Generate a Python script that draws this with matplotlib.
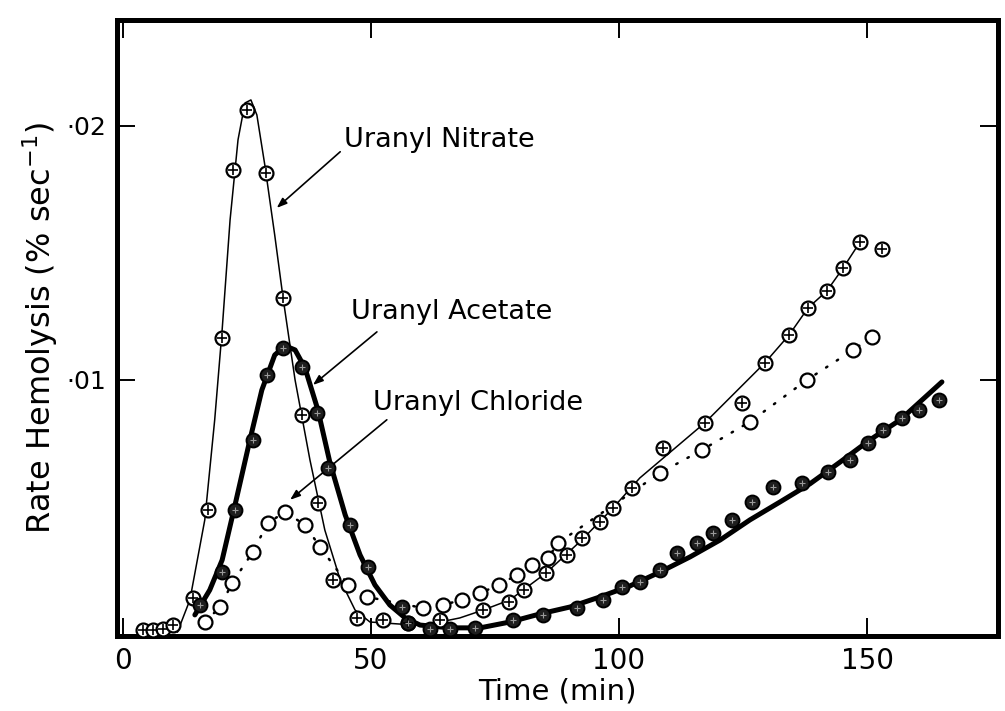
import matplotlib
matplotlib.use("Agg")
import matplotlib.pyplot as plt

# ── Data (time in min, rate in % sec^-1) ──────────────────────────────────────

# Uranyl Nitrate: measured points (crossed circles)
nitrate_t = [4.1, 6.1, 8.1, 10.1, 14.1, 17.1, 19.9, 22.2, 25.0, 28.8, 32.3, 36.1,
             39.3, 42.3, 47.2, 52.4, 57.5, 63.9, 72.6, 77.8, 80.8, 85.3, 89.5,
             92.5, 96.2, 98.8, 102.6, 108.9, 117.3, 124.8, 129.4, 134.3, 138.1,
             141.9, 145.2, 148.6, 153.0]
nitrate_r = [0.00015, 0.00015, 0.0002, 0.00035, 0.00142, 0.00488, 0.01165, 0.01827,
             0.02063, 0.01815, 0.01323, 0.00862, 0.00516, 0.00213, 0.00063, 0.00055,
             0.00043, 0.00055, 0.00094, 0.00126, 0.00173, 0.0024, 0.00311, 0.00378,
             0.00441, 0.00496, 0.00575, 0.00732, 0.00831, 0.00909, 0.01067, 0.01177,
             0.01283, 0.0135, 0.01441, 0.01543, 0.01516]

# Uranyl Nitrate: hand-drawn curve
nitrate_fit_t = [11.0, 13.5, 16.5, 18.5, 20.0, 21.6, 23.2, 24.6, 25.8, 27.0, 28.6,
                 30.6, 32.3, 34.7, 37.7, 40.7, 43.8, 46.8, 49.8, 55.8, 61.9, 67.9,
                 72.6, 78.0, 85.3, 92.5, 98.8, 104.2, 117.3, 129.4, 134.3, 138.1,
                 141.9, 145.2, 148.6]
nitrate_fit_r = [0.00008, 0.00134, 0.00449, 0.00843, 0.01197, 0.0163, 0.01945,
                 0.0209, 0.02102, 0.02043, 0.01846, 0.0157, 0.0132, 0.01, 0.00685,
                 0.00409, 0.00213, 0.00094, 0.00047, 0.00039, 0.00039, 0.00063,
                 0.00094, 0.00134, 0.0024, 0.0037, 0.00496, 0.00614, 0.00831,
                 0.01067, 0.01177, 0.01283, 0.0135, 0.01441, 0.01543]

# Uranyl Acetate: measured points (filled circles)
acetate_t = [15.5, 20.0, 22.6, 26.2, 29.0, 32.3, 36.1, 39.1, 41.3, 45.8, 49.4,
             56.3, 57.5, 62.0, 66.0, 71.0, 78.6, 84.7, 91.5, 96.8, 100.6, 104.2,
             108.3, 111.7, 115.7, 119.0, 122.8, 126.8, 131.0, 136.9, 142.1, 146.6,
             150.2, 153.2, 157.1, 160.5, 164.5]
acetate_r = [0.00114, 0.00244, 0.00488, 0.00764, 0.0102, 0.01126, 0.01051, 0.0087,
             0.00654, 0.00429, 0.00264, 0.00106, 0.00043, 0.0002, 0.00018, 0.00024,
             0.00055, 0.00075, 0.00102, 0.00134, 0.00185, 0.00205, 0.00252, 0.00319,
             0.00358, 0.00398, 0.00449, 0.0052, 0.00579, 0.00594, 0.00638, 0.00685,
             0.00752, 0.00803, 0.0085, 0.00882, 0.00921]

# Uranyl Acetate: hand-drawn curve
acetate_fit_t = [14.5, 17.5, 20.0, 22.6, 25.6, 28.0, 30.6, 32.7, 34.7, 36.7, 39.3,
                 41.7, 44.8, 47.8, 50.8, 53.8, 56.9, 59.9, 65.9, 72.0, 78.0, 84.1,
                 90.1, 96.2, 102.2, 108.3, 114.3, 120.4, 126.4, 132.5, 138.5, 144.6,
                 150.6, 156.7, 165.1]
acetate_fit_r = [0.00075, 0.00173, 0.00291, 0.00508, 0.00764, 0.0096, 0.01098,
                 0.01134, 0.01118, 0.01047, 0.00882, 0.00677, 0.00469, 0.00311,
                 0.00193, 0.00114, 0.00063, 0.00035, 0.00024, 0.00024, 0.00047,
                 0.00079, 0.00106, 0.00146, 0.00189, 0.00244, 0.00303, 0.0037,
                 0.00449, 0.0052, 0.00591, 0.00677, 0.00764, 0.00843, 0.00992]

# Uranyl Chloride: measured points (open circles, dotted)
chloride_t = [16.5, 19.6, 22.0, 26.2, 29.2, 32.7, 36.7, 39.7, 45.4, 49.2, 60.5,
              64.5, 68.3, 72.0, 75.8, 79.4, 82.5, 85.7, 87.7, 108.3, 116.7, 126.4,
              137.9, 147.2, 151.0]
chloride_r = [0.00047, 0.00106, 0.002, 0.00323, 0.00437, 0.0048, 0.00429, 0.00343,
              0.00193, 0.00146, 0.00102, 0.00114, 0.00134, 0.00161, 0.00193, 0.00232,
              0.00272, 0.00299, 0.00358, 0.00634, 0.00724, 0.00835, 0.01, 0.01118,
              0.01169]

x_ticks = [0, 50, 100, 150]
y_ticks = [0.01, 0.02]
y_tick_labels = ["·01", "·02"]

# ── Figure ────────────────────────────────────────────────────────────────────

fig = plt.figure(figsize=(10.05, 7.11), dpi=100)
ax = fig.add_axes([0.1164, 0.1055, 0.8766, 0.8665])

# curves
ax.plot(nitrate_fit_t, nitrate_fit_r, color="black", linewidth=1.1, zorder=2)
ax.plot(acetate_fit_t, acetate_fit_r, color="black", linewidth=3.6,
        solid_capstyle="round", zorder=2)
ax.plot(chloride_t, chloride_r, color="black", linewidth=1.8,
        linestyle=(0, (0.6, 4.5)), dash_capstyle="round", zorder=2)

# markers
ms = 10
ax.plot(chloride_t, chloride_r, "o", ms=ms, mfc="white", mec="black", mew=1.6, zorder=3)
ax.plot(nitrate_t, nitrate_r, "o", ms=ms, mfc="white", mec="black", mew=1.6, zorder=4)
ax.plot(nitrate_t, nitrate_r, "+", ms=ms * 0.7, mec="black", mew=1.2, zorder=5)
ax.plot(acetate_t, acetate_r, "o", ms=ms, mfc="#1e1e1e", mec="black", mew=1.4, zorder=4)
ax.plot(acetate_t, acetate_r, "+", ms=ms * 0.45, mec="#9a9a9a", mew=0.8, zorder=5)

# annotations
label_kw = dict(fontsize=19.5, family="DejaVu Sans", va="center", ha="left")
arrow_kw = dict(arrowstyle="-|>,head_length=0.6,head_width=0.22", color="black",
                linewidth=1.2, shrinkA=0, shrinkB=0)
ax.text(44.6, 0.01945, "Uranyl Nitrate", **label_kw)
ax.annotate("", xy=(31.0, 0.01677), xytext=(43.8, 0.01898), arrowprops=arrow_kw)
ax.text(46.0, 0.01268, "Uranyl Acetate", **label_kw)
ax.annotate("", xy=(38.3, 0.0098), xytext=(51.2, 0.01189), arrowprops=arrow_kw)
ax.text(50.4, 0.0091, "Uranyl Chloride", **label_kw)
ax.annotate("", xy=(33.7, 0.00528), xytext=(53.2, 0.00843), arrowprops=arrow_kw)

# axes
ax.set_xlim(-1.2, 176.4)
ax.set_ylim(-0.00008, 0.02417)
for s in ax.spines.values():
    s.set_linewidth(3.6)

ax.set_xticks(x_ticks)
ax.set_yticks(y_ticks)
ax.set_yticklabels(y_tick_labels)
ax.tick_params(direction="in", length=13, width=1.4, top=True, right=True,
               labelsize=20, pad=8)
for lbl in ax.get_yticklabels():
    lbl.set_fontsize(18)

ax.set_xlabel("Time (min)", fontsize=21, labelpad=2)
ax.set_ylabel("Rate Hemolysis $\\left(\\%\\ \\mathrm{sec}^{-1}\\right)$", fontsize=23,
              labelpad=4)

fig.savefig("out.png", dpi=100, facecolor="white")
